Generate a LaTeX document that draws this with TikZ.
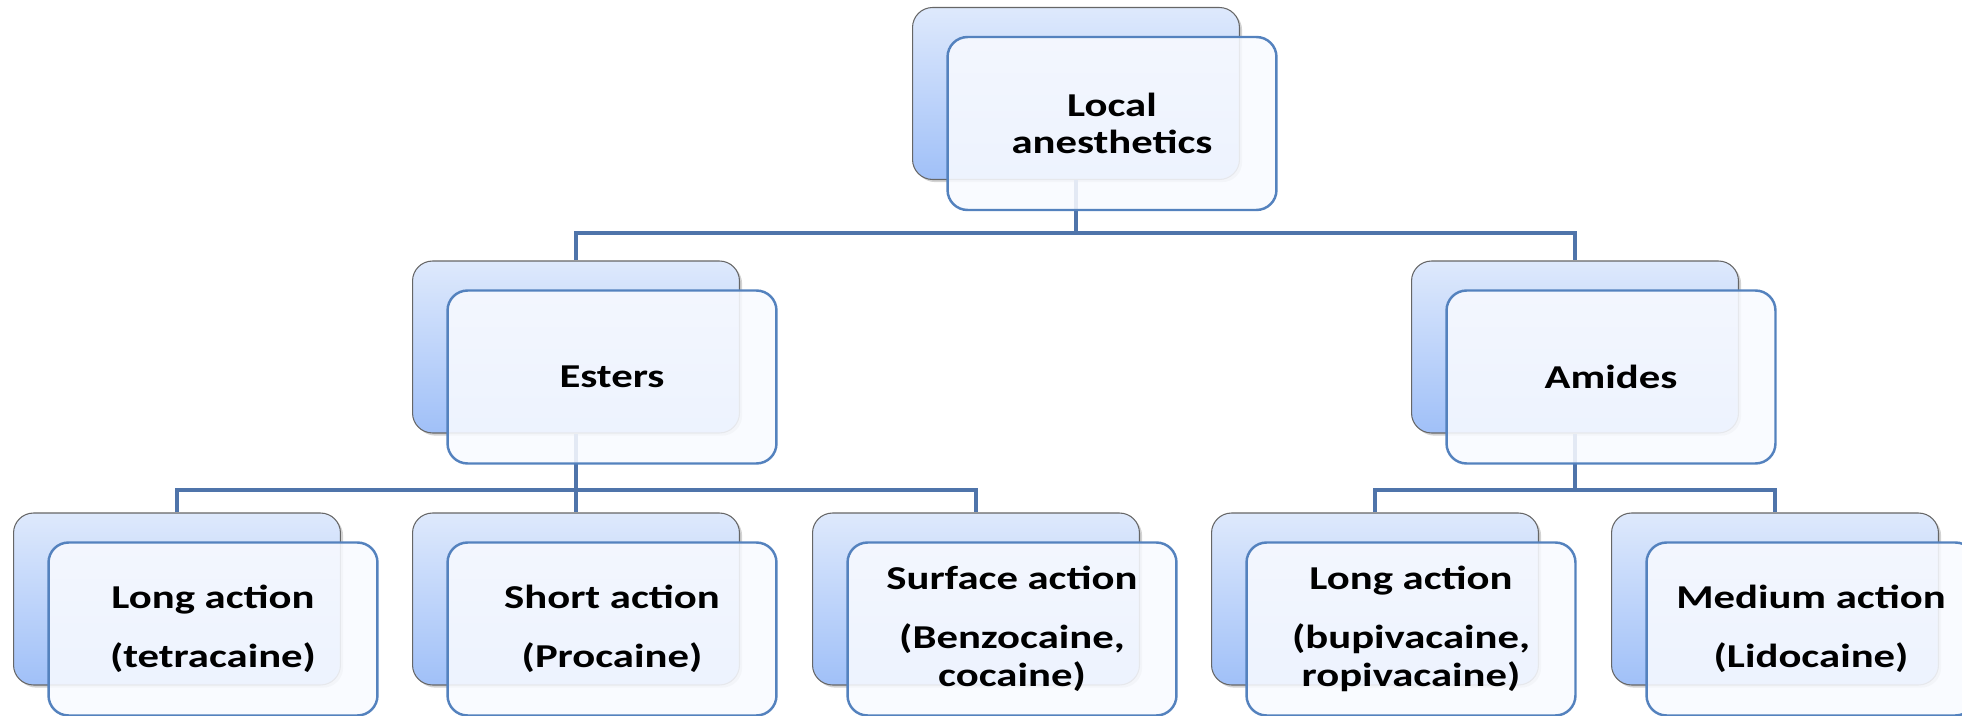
\documentclass[tikz,border=0pt]{standalone}
\usepackage{fontspec}
\setmainfont[FakeStretch=1.28]{Carlito}
\usepackage{tikz}
\usetikzlibrary{shadows}

\definecolor{linkblue}{RGB}{79,116,170}
\definecolor{backtop}{RGB}{222,233,252}
\definecolor{backbot}{RGB}{160,192,248}
\definecolor{frontrim}{RGB}{84,130,190}
\definecolor{frontfill}{RGB}{248,250,255}

\begin{document}
\begin{tikzpicture}
            [x=0.02cm,y=-0.02cm,
             backbox/.style={rounded corners=0.4cm,draw=black!60,line width=0.6pt,
                top color=backtop,bottom color=backbot,minimum width=6.54cm,minimum height=3.44cm,
                inner sep=0pt,drop shadow={shadow xshift=1.5pt,shadow yshift=-1.5pt,opacity=0.35}},
             frontbox/.style={rounded corners=0.4cm,draw=frontrim,line width=1.4pt,
                fill=frontfill,fill opacity=0.88,text opacity=1,minimum width=6.58cm,minimum height=3.46cm,
                inner sep=0pt,align=center,font=\fontsize{19}{21.5}\selectfont\bfseries},
             link/.style={draw=linkblue,line width=2.6pt}]
            \useasboundingbox (0,0) rectangle (1962,716);

            \coordinate (j1) at (1076,233);
            \coordinate (j2) at (576,490);
            \coordinate (j3) at (1575,490);

            \node[backbox] (top) at (1076,93.5) {};
            \node[backbox] (esters) at (576,347) {};
            \node[backbox] (amides) at (1575,347) {};
            \node[backbox] (longe) at (177,599) {};
            \node[backbox] (short) at (576,599) {};
            \node[backbox] (surface) at (976,599) {};
            \node[backbox] (longa) at (1375,599) {};
            \node[backbox] (medium) at (1775,599) {};

            \draw[link] (top) -- (j1);
            \draw[link] (esters.north) |- (j1) -| (amides.north);
            \draw[link] (esters) -- (j2);
            \draw[link] (longe.north) |- (j2) -| (surface.north);
            \draw[link] (j2) -- (short.north);
            \draw[link] (amides) -- (j3);
            \draw[link] (longa.north) |- (j3) -| (medium.north);

            \node[frontbox] (topf) at (1112,123.5) {Local\\anesthetics};
            \node[frontbox] (estersf) at (612,377) {Esters};
            \node[frontbox] (amidesf) at (1611,377) {Amides};
            \node[frontbox] (longef) at (213,629) {Long action\\[0.42cm](tetracaine)};
            \node[frontbox] (shortf) at (612,629) {Short action\\[0.42cm](Procaine)};
            \node[frontbox] (surfacef) at (1012,629) {Surface action\\[0.42cm](Benzocaine,\\cocaine)};
            \node[frontbox] (longaf) at (1411,629) {Long action\\[0.42cm](bupivacaine,\\ropivacaine)};
            \node[frontbox] (mediumf) at (1811,629) {Medium action\\[0.42cm](Lidocaine)};

        \end{tikzpicture}
\end{document}
